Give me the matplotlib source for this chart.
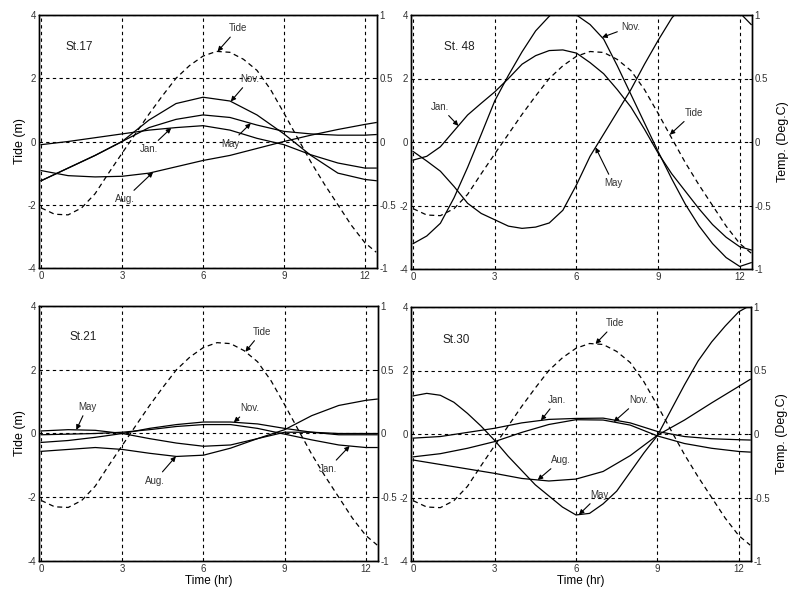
import numpy as np
import matplotlib
matplotlib.use('Agg')
import matplotlib.pyplot as plt

plt.rcParams['font.family'] = ['Liberation Sans', 'DejaVu Sans']
plt.rcParams['axes.unicode_minus'] = False

# sample times over one M2 tidal cycle (hr)
hours = [0, 1, 2, 3, 4, 5, 6, 7, 8, 9, 10, 11, 12, 12.42]
half_hours = [0, 0.5, 1, 1.5, 2, 2.5, 3, 3.5, 4, 4.5, 5, 5.5, 6, 6.5,
              7, 7.5, 8, 8.5, 9, 9.5, 10, 10.5, 11, 11.5, 12, 12.42]

# tide level (m), same cycle for every station (half-hourly)
tide = [-2.1, -2.3, -2.32, -2.1, -1.65, -1.0, -0.37, 0.25, 0.87, 1.45, 2.0, 2.4, 2.7,
        2.85, 2.82, 2.6, 2.25, 1.65, 0.9, 0.12, -0.65, -1.35, -2.0, -2.65, -3.2, -3.5]

# temperature anomaly (deg C) per station and month
st17_jan = [-0.025, 0.0, 0.03, 0.06, 0.09, 0.11, 0.125, 0.09, 0.025, -0.025, -0.105, -0.17, -0.21, -0.21]
st17_may = [-0.31, -0.21, -0.11, 0.0, 0.11, 0.175, 0.21, 0.19, 0.13, 0.08, 0.06, 0.05, 0.05, 0.055]
st17_aug = [-0.23, -0.27, -0.28, -0.275, -0.25, -0.2, -0.15, -0.11, -0.055, 0.0, 0.05, 0.095, 0.135, 0.15]
st17_nov = [-0.31, -0.21, -0.11, 0.0, 0.17, 0.3, 0.35, 0.32, 0.21, 0.06, -0.11, -0.25, -0.3, -0.31]

# St.48 is read half-hourly (large swings)
st48_jan = [-0.1425, -0.1125, -0.0375, 0.0875, 0.2125, 0.305, 0.395, 0.5, 0.6125, 0.68, 0.72, 0.725, 0.7,
            0.625, 0.5375, 0.4125, 0.275, 0.1, -0.0875, -0.25, -0.3875, -0.525, -0.65, -0.75, -0.825, -0.85]
st48_may = [-0.075, -0.15, -0.23, -0.35, -0.4825, -0.5625, -0.6125, -0.6625, -0.68, -0.67, -0.6375, -0.5375, -0.3375,
            -0.1125, 0.0625, 0.2375, 0.4125, 0.6125, 0.8, 0.975, 1.1, 1.1625, 1.175, 1.125, 1.0175, 0.925]
st48_nov = [-0.8, -0.74, -0.64, -0.44, -0.2, 0.06, 0.325, 0.525, 0.71, 0.875, 0.99, 1.075, 1.0,
            0.925, 0.81, 0.6, 0.375, 0.15, -0.075, -0.29, -0.49, -0.66, -0.8, -0.91, -0.98, -0.95]

st21_jan = [-0.01, -0.005, 0.0, 0.01, 0.03, 0.055, 0.07, 0.07, 0.04, -0.005, -0.05, -0.09, -0.11, -0.11]
st21_may = [0.02, 0.03, 0.025, 0.0, -0.04, -0.075, -0.1, -0.09, -0.04, 0.01, 0.01, 0.0, 0.0, 0.0]
st21_aug = [-0.14, -0.125, -0.11, -0.125, -0.155, -0.18, -0.17, -0.115, -0.04, 0.03, 0.14, 0.22, 0.26, 0.27]
st21_nov = [-0.07, -0.055, -0.03, 0.0, 0.04, 0.07, 0.09, 0.09, 0.075, 0.04, 0.01, -0.01, -0.01, -0.01]

st30_jan = [-0.0325, -0.02, 0.0125, 0.045, 0.0875, 0.115, 0.1225, 0.125, 0.0875, 0.02, -0.02, -0.0375, -0.045, -0.0475]
st30_may = [0.3, 0.32, 0.305, 0.25, 0.1625, 0.0625, -0.05, -0.175, -0.2875, -0.4, -0.4875, -0.575, -0.6375,
            -0.625, -0.55, -0.45, -0.3, -0.15, -0.0125, 0.1875, 0.3875, 0.575, 0.725, 0.85, 0.9625, 1.0125]
st30_aug = [-0.205, -0.24, -0.275, -0.31, -0.35, -0.37, -0.355, -0.295, -0.17, -0.01, 0.11, 0.245, 0.375, 0.43]
st30_nov = [-0.18, -0.155, -0.1125, -0.06, 0.0125, 0.075, 0.1125, 0.11, 0.07, -0.015, -0.075, -0.1125, -0.1375, -0.1425]

left_ticks = [-4, -2, 0, 2, 4]
left_labels = ['-4', '-2', '0', '2', '4']
right_ticks = [-1, -0.5, 0, 0.5, 1]
right_labels = ['-1', '-0.5', '0', '0.5', '1']
x_ticks = [0, 3, 6, 9, 12]
x_labels = ['0', '3', '6', '9', '12']

fig = plt.figure(figsize=(8.06, 5.93), dpi=100)
W, H = 806.0, 593.0


def rect(l, r, t, b):
    return [l / W, 1 - b / H, (r - l) / W, (b - t) / H]


def draw_panel(box, name, name_xy, temps, notes, left_label, right_label, xlabel):
    ax = fig.add_axes(box)
    ax2 = ax.twinx()
    ax.plot(half_hours, tide, color='k', lw=0.9, dashes=(4, 3))
    for key in temps:
        grid, vals = temps[key]
        ax2.plot(grid, vals, color='k', lw=0.9)

    ax.set_xlim(-0.08, 12.45)
    ax.set_ylim(-4, 4)
    ax2.set_ylim(-1, 1)
    ax.set_xticks(x_ticks)
    ax.set_xticklabels(x_labels)
    ax.set_yticks(left_ticks)
    ax.set_yticklabels(left_labels)
    ax2.set_yticks(right_ticks)
    ax2.set_yticklabels(right_labels)
    for a in (ax, ax2):
        a.tick_params(labelsize=7, length=2, width=0.7, pad=2,
                      direction='in', labelcolor='#333333')
        for s in a.spines.values():
            s.set_linewidth(1.0)
    ax.grid(True, color='k', lw=0.8, ls=(0, (3, 3)))

    ax.text(name_xy[0], name_xy[1], name, fontsize=8.5, ha='center', va='center',
            color='#222222')

    for label, key, tip, tx, tv in notes:
        arrow = dict(arrowstyle='-|>', color='k', lw=0.8, mutation_scale=7,
                     shrinkA=1, shrinkB=0)
        if key == 'Tide':
            ax.annotate(label, xy=(tip, np.interp(tip, half_hours, tide)),
                        xytext=(tx, tv), fontsize=7, color='#333333',
                        ha='center', va='center', arrowprops=arrow)
        else:
            grid, vals = temps[key]
            ax2.annotate(label, xy=(tip, np.interp(tip, grid, vals)),
                         xytext=(tx, tv), textcoords=ax.transData,
                         fontsize=7, color='#333333',
                         ha='center', va='center', arrowprops=arrow)

    if left_label:
        ax.set_ylabel('Tide (m)', fontsize=9, labelpad=1)
    if right_label:
        ax2.set_ylabel('Temp. (Deg.C)', fontsize=9, labelpad=4)
    if xlabel:
        ax.set_xlabel('Time (hr)', fontsize=8.5, labelpad=1)
    return ax, ax2


draw_panel(rect(39, 377, 15, 268), 'St.17', (1.4, 3.0),
           {'jan': (hours, st17_jan), 'may': (hours, st17_may),
            'aug': (hours, st17_aug), 'nov': (hours, st17_nov)},
           [('Tide', 'Tide', 6.54, 7.3, 3.58),
            ('Nov.', 'nov', 7.03, 7.75, 1.98),
            ('May', 'may', 7.77, 7.0, -0.07),
            ('Jan.', 'jan', 4.82, 4.0, -0.24),
            ('Aug.', 'aug', 4.15, 3.1, -1.82)],
           True, False, False)

draw_panel(rect(411, 752, 15, 269), 'St. 48', (1.7, 3.0),
           {'jan': (half_hours, st48_jan), 'may': (half_hours, st48_may),
            'nov': (half_hours, st48_nov)},
           [('Nov.', 'nov', 6.94, 8.0, 3.63),
            ('Jan.', 'jan', 1.66, 1.0, 1.11),
            ('Tide', 'Tide', 9.43, 10.3, 0.92),
            ('May', 'may', 6.7, 7.35, -1.3)],
           False, True, False)

draw_panel(rect(39, 378, 306, 561), 'St.21', (1.55, 3.03),
           {'jan': (hours, st21_jan), 'may': (hours, st21_may),
            'aug': (hours, st21_aug), 'nov': (hours, st21_nov)},
           [('Tide', 'Tide', 7.55, 8.15, 3.19),
            ('May', 'may', 1.3, 1.7, 0.84),
            ('Nov.', 'nov', 7.12, 7.7, 0.79),
            ('Aug.', 'aug', 4.98, 4.2, -1.48),
            ('Jan.', 'jan', 11.4, 10.6, -1.11)],
           True, False, True)

draw_panel(rect(411, 751, 307, 561), 'St.30', (1.6, 2.96),
           {'jan': (hours, st30_jan), 'may': (half_hours, st30_may),
            'aug': (hours, st30_aug), 'nov': (hours, st30_nov)},
           [('Tide', 'Tide', 6.72, 7.45, 3.49),
            ('Jan.', 'jan', 4.71, 5.3, 1.07),
            ('Nov.', 'nov', 7.39, 8.3, 1.07),
            ('Aug.', 'aug', 4.59, 5.45, -0.82),
            ('May', 'may', 6.11, 6.85, -1.92)],
           False, True, True)

fig.savefig('out.png', dpi=100)
